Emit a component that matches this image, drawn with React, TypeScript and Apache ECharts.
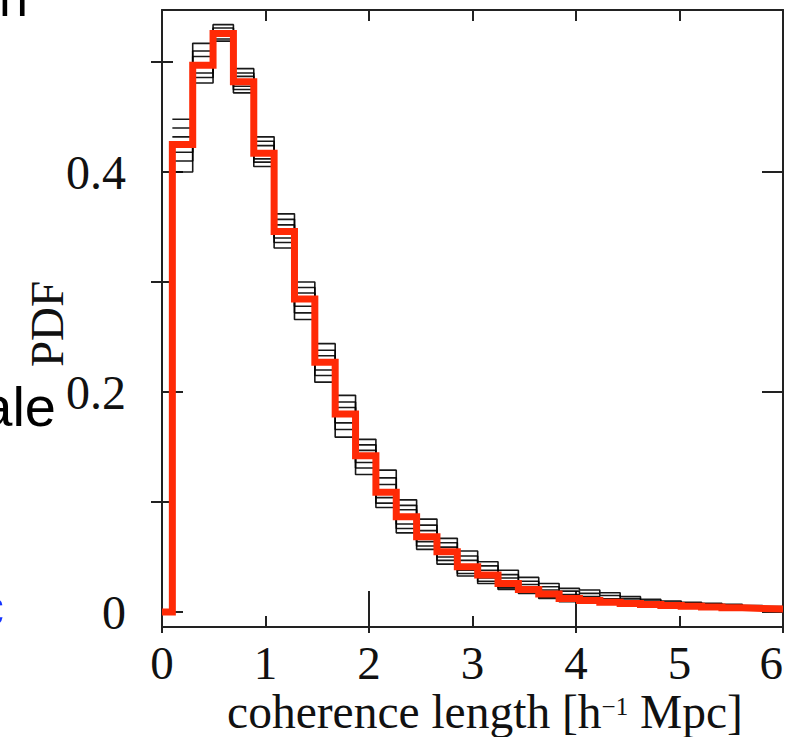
import React, { useEffect, useRef } from "react";
import * as echarts from "echarts";

// Histogram binning (30 bins from 0.1 to 6.0 h^-1 Mpc)
const BIN_START = 0.1;
const BIN_END = 6.0;
const BIN_COUNT = 30;
const BIN_EDGES = Array.from({ length: BIN_COUNT + 1 }, (_, i) =>
  +(BIN_START + (i * (BIN_END - BIN_START)) / BIN_COUNT).toFixed(4)
);

// Red (mean / reference) histogram
const RED_PDF = [
  0.425, 0.497, 0.526, 0.482, 0.417, 0.346, 0.2845, 0.227, 0.18, 0.142,
  0.109, 0.0866, 0.0685, 0.0548, 0.0412, 0.0336, 0.026, 0.0206, 0.0164, 0.0124,
  0.0105, 0.009, 0.0078, 0.0068, 0.006, 0.0052, 0.0045, 0.0038, 0.0032, 0.0027,
];

// Black thin realisations (read from top to bottom of each bin's bundle)
const ENS_1 = [
  0.448, 0.517, 0.534, 0.494, 0.432, 0.362, 0.3, 0.244, 0.197, 0.157,
  0.129, 0.102, 0.0845, 0.067, 0.0555, 0.0457, 0.038, 0.0315, 0.026, 0.0215,
  0.02, 0.0176, 0.014, 0.0115, 0.01, 0.0088, 0.0079, 0.007, 0.006, 0.005,
];
const ENS_2 = [
  0.44, 0.51, 0.531, 0.49, 0.428, 0.357, 0.295, 0.238, 0.191, 0.152,
  0.122, 0.097, 0.079, 0.063, 0.051, 0.042, 0.034, 0.028, 0.023, 0.019,
  0.017, 0.015, 0.012, 0.01, 0.0088, 0.0078, 0.007, 0.0062, 0.0053, 0.0045,
];
const ENS_3 = [
  0.432, 0.505, 0.528, 0.487, 0.424, 0.352, 0.29, 0.233, 0.186, 0.147,
  0.116, 0.093, 0.074, 0.059, 0.047, 0.038, 0.031, 0.025, 0.02, 0.016,
  0.014, 0.012, 0.01, 0.0085, 0.0075, 0.0066, 0.006, 0.0053, 0.0045, 0.0038,
];
const ENS_4 = [
  0.418, 0.49, 0.524, 0.478, 0.412, 0.34, 0.278, 0.22, 0.172, 0.136,
  0.104, 0.08, 0.064, 0.05, 0.038, 0.031, 0.024, 0.019, 0.015, 0.0115,
  0.01, 0.0085, 0.0074, 0.0064, 0.0057, 0.005, 0.0043, 0.0037, 0.0032, 0.0027,
];
const ENS_5 = [
  0.41, 0.486, 0.521, 0.475, 0.409, 0.336, 0.272, 0.215, 0.166, 0.131,
  0.099, 0.076, 0.06, 0.047, 0.035, 0.028, 0.022, 0.018, 0.0135, 0.0105,
  0.0095, 0.0082, 0.0072, 0.0062, 0.0054, 0.0047, 0.0041, 0.0035, 0.003, 0.0026,
];
const ENS_6 = [
  0.4, 0.481, 0.519, 0.472, 0.405, 0.331, 0.266, 0.209, 0.159, 0.125,
  0.095, 0.072, 0.057, 0.0436, 0.0327, 0.026, 0.0206, 0.017, 0.0124, 0.0094,
  0.009, 0.008, 0.007, 0.006, 0.0052, 0.0045, 0.004, 0.0034, 0.003, 0.0025,
];
const ENSEMBLE = [ENS_1, ENS_2, ENS_3, ENS_4, ENS_5, ENS_6];

// Axis ticks / labels
const X_MIN = 0;
const X_MAX = 6;
const Y_MIN = -0.0136;
const Y_MAX = 0.5473;
const Y_MAJOR = [0, 0.2, 0.4];
const Y_MINOR = [0.1, 0.3, 0.5];

const X_TITLE_MAIN = "coherence length [h";
const X_TITLE_SUP = "\u22121";
const X_TITLE_END = " Mpc]";
const Y_TITLE = "PDF";

const SERIF = "'Liberation Serif', 'Times New Roman', serif";
const SANS = "'Liberation Sans', Arial, sans-serif";
const AXIS_COLOR = "#222";
const RED = "#ff2a06";

function stepData(values: number[]) {
  const pts: [number, number][] = values.map((v, i) => [BIN_EDGES[i], v]);
  pts.push([BIN_EDGES[BIN_COUNT], values[values.length - 1]]);
  return pts;
}

export default function App() {
  const ref = useRef<HTMLDivElement>(null);

  useEffect(() => {
    document.body.style.margin = "0";
    if (!ref.current) return;
    const chart = echarts.init(ref.current, null, { renderer: "svg" });

    const lineStyleAxis = { color: AXIS_COLOR, width: 2 };
    const xAxisBase = {
      type: "value" as const,
      min: X_MIN,
      max: X_MAX,
      splitLine: { show: false },
    };
    const yAxisBase = {
      type: "value" as const,
      min: Y_MIN,
      max: Y_MAX,
      splitLine: { show: false },
    };

    const blackSeries = ENSEMBLE.map((vals, k) => ({
      type: "line" as const,
      name: "realisation " + (k + 1),
      step: "end" as const,
      data: stepData(vals),
      showSymbol: false,
      symbol: "none",
      lineStyle: { color: "#000", width: 1.6, opacity: 0.9 },
      z: 2,
      silent: true,
    }));

    chart.setOption({
      animation: false,
      grid: { left: 162, top: 10, width: 621, height: 617, containLabel: false },
      xAxis: [
        {
          ...xAxisBase,
          position: "bottom",
          interval: 1,
          axisLine: { show: true, onZero: false, lineStyle: lineStyleAxis },
          axisTick: { show: true, inside: true, length: 11, lineStyle: lineStyleAxis },
          axisLabel: {
            show: true,
            margin: 12,
            fontFamily: SERIF,
            fontSize: 47,
            color: "#111",
            alignMaxLabel: "right",
          },
        },
        {
          ...xAxisBase,
          position: "bottom",
          interval: 2,
          axisLine: { show: false },
          axisTick: { show: true, inside: true, length: 21, lineStyle: lineStyleAxis },
          axisLabel: { show: false },
        },
        {
          ...xAxisBase,
          position: "top",
          interval: 1,
          axisLine: { show: true, onZero: false, lineStyle: lineStyleAxis },
          axisTick: { show: true, inside: true, length: 11, lineStyle: lineStyleAxis },
          axisLabel: { show: false },
        },
        {
          ...xAxisBase,
          position: "top",
          interval: 2,
          axisLine: { show: false },
          axisTick: { show: true, inside: true, length: 21, lineStyle: lineStyleAxis },
          axisLabel: { show: false },
        },
      ],
      yAxis: [
        {
          ...yAxisBase,
          position: "left",
          axisLine: { show: true, onZero: false, lineStyle: lineStyleAxis },
          axisTick: {
            show: true,
            inside: true,
            length: 21,
            customValues: Y_MAJOR,
            lineStyle: lineStyleAxis,
          },
          axisLabel: {
            show: true,
            customValues: Y_MAJOR,
            margin: 36,
            fontFamily: SERIF,
            fontSize: 48,
            color: "#111",
          },
        },
        {
          ...yAxisBase,
          position: "left",
          axisLine: { show: false },
          axisTick: {
            show: true,
            inside: true,
            length: 11,
            customValues: Y_MINOR,
            lineStyle: lineStyleAxis,
          },
          axisLabel: { show: false },
        },
        {
          ...yAxisBase,
          position: "right",
          axisLine: { show: true, onZero: false, lineStyle: lineStyleAxis },
          axisTick: {
            show: true,
            inside: true,
            length: 21,
            customValues: Y_MAJOR,
            lineStyle: lineStyleAxis,
          },
          axisLabel: { show: false },
        },
        {
          ...yAxisBase,
          position: "right",
          axisLine: { show: false },
          axisTick: {
            show: true,
            inside: true,
            length: 11,
            customValues: Y_MINOR,
            lineStyle: lineStyleAxis,
          },
          axisLabel: { show: false },
        },
      ],
      series: [
        ...blackSeries,
        {
          type: "line",
          name: "mean",
          step: "end",
          data: [[X_MIN, 0], ...stepData(RED_PDF)],
          showSymbol: false,
          symbol: "none",
          clip: false,
          lineStyle: { color: RED, width: 7, join: "miter", cap: "butt" },
          z: 5,
          silent: true,
        },
      ],
      graphic: [
        {
          type: "text",
          x: 47,
          y: 324,
          rotation: Math.PI / 2,
          style: {
            text: Y_TITLE,
            fontFamily: SERIF,
            fontSize: 47,
            fill: "#111",
            align: "center",
            verticalAlign: "middle",
          },
        },
        {
          type: "text",
          x: 485,
          y: 712,
          style: {
            text: "{a|" + X_TITLE_MAIN + "}{s|" + X_TITLE_SUP + "}{a|" + X_TITLE_END + "}",
            align: "center",
            verticalAlign: "middle",
            rich: {
              a: { fontFamily: SERIF, fontSize: 47.5, lineHeight: 36, fill: "#111", color: "#111" },
              s: {
                fontFamily: SERIF,
                fontSize: 25,
                lineHeight: 25,
                verticalAlign: "top",
                fill: "#111",
                color: "#111",
              },
            },
          },
        },
        {
          type: "text",
          x: -1,
          y: 24,
          style: {
            text: "n",
            fontFamily: SANS,
            fontSize: 52,
            fill: "#000",
            align: "left",
            verticalAlign: "bottom",
          },
        },
        {
          type: "text",
          x: 56,
          y: 434,
          style: {
            text: "scale",
            fontFamily: SANS,
            fontSize: 56,
            fill: "#000",
            align: "right",
            verticalAlign: "bottom",
          },
        },
        {
          type: "text",
          x: 4,
          y: 634,
          style: {
            text: "c",
            fontFamily: SANS,
            fontSize: 56,
            fill: "#1433ff",
            align: "right",
            verticalAlign: "bottom",
          },
        },
      ],
    });

    return () => chart.dispose();
  }, []);

  return <div ref={ref} style={{ width: 794, height: 737 }} />;
}
